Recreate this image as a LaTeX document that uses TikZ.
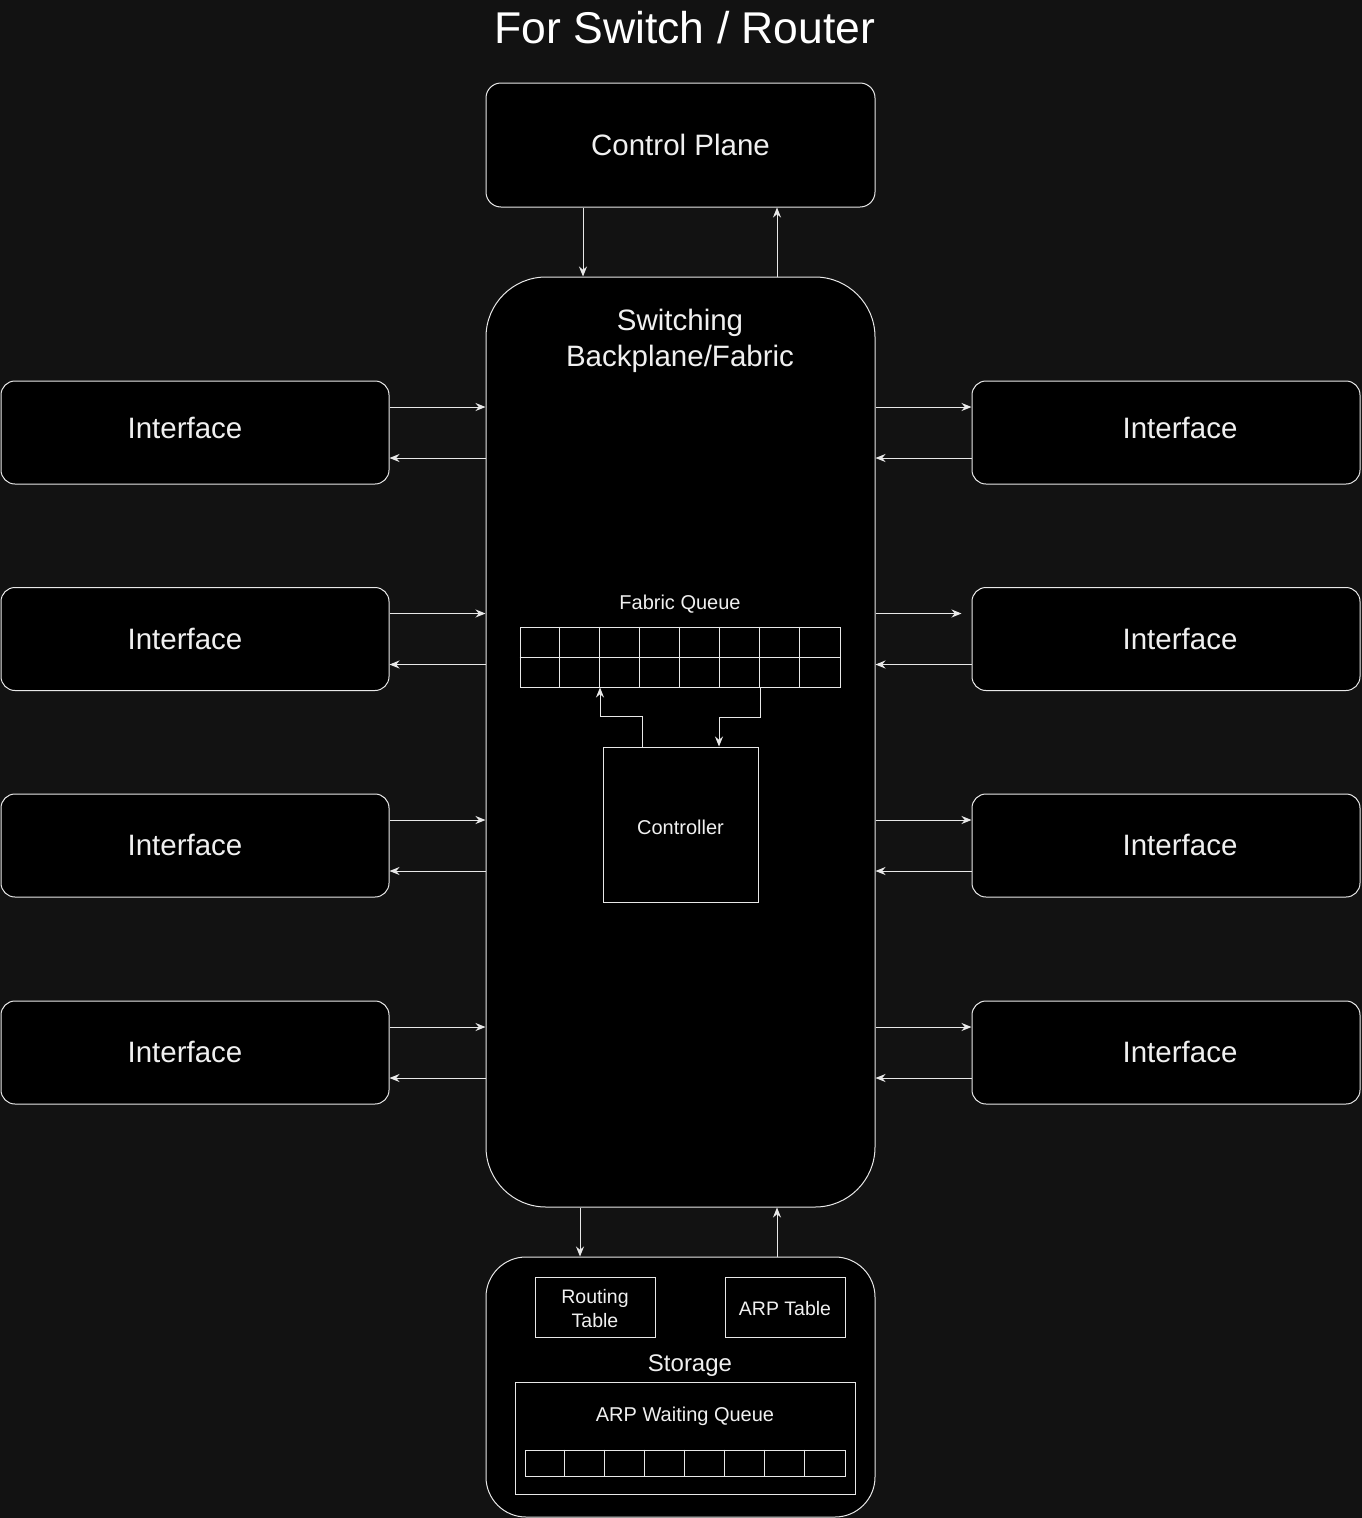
\documentclass[tikz,border=0pt]{standalone}
\usepackage{fontspec}
\setmainfont{Liberation Sans}
\usetikzlibrary{arrows.meta}
\definecolor{bgc}{HTML}{121212}
\definecolor{strk}{HTML}{E8E8E8}
\definecolor{txt}{HTML}{F0F0F0}
\tikzset{
  box/.style={draw=strk, fill=black, line width=1pt, rectangle, inner sep=0pt, text=txt},
  ibox/.style={box, rounded corners=14pt, minimum width=388pt, minimum height=103pt},
  itxt/.style={lbl, font=\fontsize{29.5}{36}\selectfont},
  sbox/.style={box, minimum width=120pt, minimum height=60pt, font=\fontsize{19.5}{24}\selectfont, align=center},
  lbl/.style={text=txt, inner sep=0pt},
  arr/.style={draw=strk, line width=1pt, -{Stealth[length=10pt,width=8pt]}},
  cell/.style={draw=strk, line width=1pt},
}
\begin{document}
\begin{tikzpicture}[x=1pt,y=-1pt]
\fill[bgc] (0,0) rectangle (1362,1518);
\useasboundingbox (0,0) rectangle (1362,1518);

\node[lbl, text=white, font=\fontsize{44.5}{50}\selectfont] (title) at (685,28) {For Switch / Router};

\node[box, rounded corners=15pt, minimum width=389pt, minimum height=124pt, font=\fontsize{29.5}{36}\selectfont] (CP) at (680.5,145) {Control Plane};

\node[box, rounded corners=60pt, minimum width=389pt, minimum height=930pt] (SB) at (680.5,742) {};
\node[lbl, align=center, font=\fontsize{29.5}{36}\selectfont] (SBl) at (680,341) {Switching\\Backplane/Fabric};

% interfaces
\node[ibox] (L1) at (195,432.5) {};
\node[ibox] (L2) at (195,639) {};
\node[ibox] (L3) at (195,845.5) {};
\node[ibox] (L4) at (195,1052.5) {};
\node[ibox] (R1) at (1166,432.5) {};
\node[ibox] (R2) at (1166,639) {};
\node[ibox] (R3) at (1166,845.5) {};
\node[ibox] (R4) at (1166,1052.5) {};
\node[itxt] (L1t) at ([xshift=-10pt,yshift=5pt]L1.center) {Interface};
\node[itxt] (R1t) at ([xshift=14pt,yshift=5pt]R1.center) {Interface};
\foreach \n in {L2,L3,L4}{
  \node[itxt] (\n t) at ([xshift=-10pt,yshift=0.5pt]\n.center) {Interface};
}
\foreach \n in {R2,R3,R4}{
  \node[itxt] (\n t) at ([xshift=14pt,yshift=0.5pt]\n.center) {Interface};
}

% left connectors
\foreach \n in {L1,L2,L3,L4}{
  \draw[arr] ([yshift=25.5pt]\n.east) -- ([yshift=25.5pt]\n.east -| SB.west);
  \draw[arr] ([yshift=-25.5pt]\n.east -| SB.west) -- ([yshift=-25.5pt]\n.east);
}
% right connectors
\foreach \n in {R1,R3,R4}{
  \draw[arr] ([yshift=25.5pt]\n.west -| SB.east) -- ([yshift=25.5pt]\n.west);
}
\draw[arr, shorten >=10pt] ([yshift=25.5pt]R2.west -| SB.east) -- ([yshift=25.5pt]R2.west);
\foreach \n in {R1,R2,R3,R4}{
  \draw[arr] ([yshift=-25.5pt]\n.west) -- ([yshift=-25.5pt]\n.west -| SB.east);
}

% control plane connectors
\draw[arr] ([xshift=-97.5pt]CP.south) -- ([xshift=-97.5pt]CP.south |- SB.north);
\draw[arr] ([xshift=96.5pt]SB.north) -- ([xshift=96.5pt]SB.north |- CP.south);

% fabric queue
\node[lbl, font=\fontsize{20}{24}\selectfont] (FQl) at (680,604) {Fabric Queue};
\node[box, minimum width=320pt, minimum height=60pt] (FQ) at (680,657) {};
\foreach \i in {1,...,7}{
  \draw[cell] ([xshift=40*\i pt]FQ.north west) -- ([xshift=40*\i pt]FQ.south west);
}
\draw[cell] (FQ.west) -- (FQ.east);

% controller
\node[box, minimum width=155pt, minimum height=155pt] (CT) at (680.5,824.5) {};
\node[lbl, font=\fontsize{20}{24}\selectfont] (CTl) at (680.5,827) {Controller};
\draw[arr] ([xshift=-38.5pt]CT.north) -- ++(0,-30) -| ([xshift=-80pt]FQ.south);
\draw[arr] ([xshift=80pt]FQ.south) -- ++(0,30) -| ([xshift=38.5pt]CT.north);

% storage
\node[box, rounded corners=40pt, minimum width=389pt, minimum height=260pt] (ST) at (680.5,1387) {};
\draw[arr] ([xshift=-100.5pt]SB.south) -- ([xshift=-100.5pt]SB.south |- ST.north);
\draw[arr] ([xshift=96.5pt]ST.north) -- ([xshift=96.5pt]ST.north |- SB.south);

\node[sbox] (RT) at (595,1307) {};
\node[lbl, align=center, font=\fontsize{19.5}{24}\selectfont] (RTl) at (595,1309) {Routing\\Table};
\node[sbox] (AT) at (785,1307) {};
\node[lbl, font=\fontsize{19.5}{24}\selectfont] (ATl) at (785,1309) {ARP Table};
\node[lbl, font=\fontsize{24}{28}\selectfont] (STl) at (690,1366) {Storage};
\node[box, minimum width=340pt, minimum height=112pt] (AWQ) at (685,1438) {};
\node[lbl, font=\fontsize{20}{24}\selectfont] (AWQl) at (685,1416) {ARP Waiting Queue};
\node[box, minimum width=320pt, minimum height=26pt] (Q) at (685,1463) {};
\foreach \i in {1,...,7}{
  \draw[cell] ([xshift=40*\i pt]Q.north west) -- ([xshift=40*\i pt]Q.south west);
}
\end{tikzpicture}
\end{document}
